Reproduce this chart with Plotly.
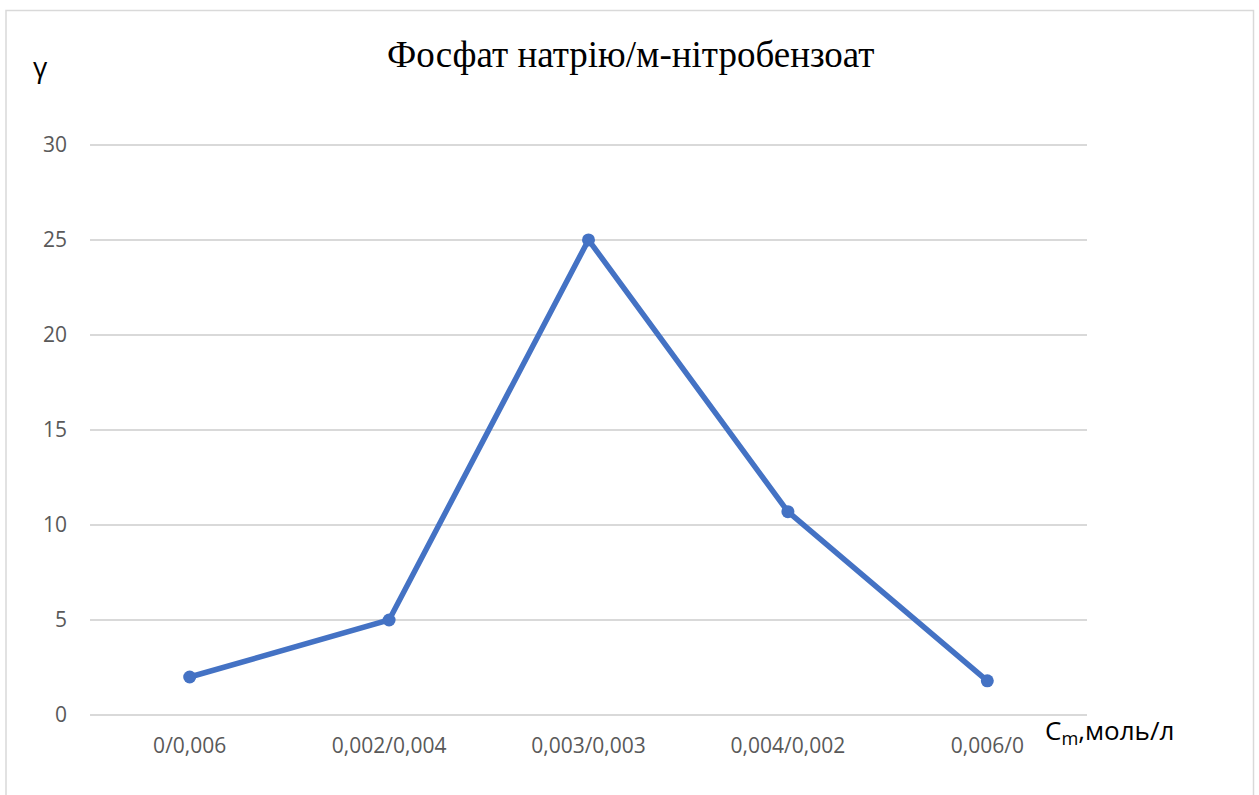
import plotly.graph_objects as go

categories = ["0/0,006", "0,002/0,004", "0,003/0,003", "0,004/0,002", "0,006/0"]
gamma = [2.0, 5.0, 25.0, 10.7, 1.8]
y_ticks = [0, 5, 10, 15, 20, 25, 30]

W, H = 1259, 795
L, R, T, B = 90, 1259 - 1087, 142, 795 - 715

fig = go.Figure()
fig.add_trace(go.Scatter(
    x=categories, y=gamma, mode="lines+markers",
    line=dict(color="#4472C4", width=5.5),
    marker=dict(color="#4472C4", size=13),
    cliponaxis=False, showlegend=False,
))

pw, ph = W - L - R, H - T - B
def px(x): return (x - L) / pw
def py(y): return (H - B - y) / ph

SANS = "Open Sans"
fig.update_layout(
    width=W, height=H,
    margin=dict(l=L, r=R, t=T, b=B),
    paper_bgcolor="white", plot_bgcolor="white",
    font=dict(family=SANS, color="#595959", size=21),
    xaxis=dict(type="category", showgrid=False, showline=False, zeroline=False,
               ticks="", tickfont=dict(family=SANS, size=21, color="#595959"), range=[-0.5, 4.5],
               ticklabelstandoff=16),
    yaxis=dict(range=[0, 30.15], tickvals=y_ticks, showgrid=True, gridcolor="#D9D9D9",
               gridwidth=1.5, zeroline=True, zerolinecolor="#D9D9D9", zerolinewidth=1.5,
               showline=False, ticks="",
               tickfont=dict(family=SANS, size=21, color="#595959"), ticklabelstandoff=22),
    shapes=[dict(type="rect", xref="paper", yref="paper",
                 x0=px(6), x1=px(1253.5), y0=py(820), y1=py(10.5),
                 line=dict(color="#D9D9D9", width=1.5), fillcolor="rgba(0,0,0,0)", layer="below")],
    annotations=[
        dict(text="Фосфат натрію/м-нітробензоат", xref="paper", yref="paper",
             x=px(631), y=py(55), showarrow=False, xanchor="center", yanchor="middle",
             font=dict(family="Liberation Serif", size=37, color="black")),
        dict(text="γ", xref="paper", yref="paper", x=px(40), y=py(66), showarrow=False,
             xanchor="center", yanchor="middle",
             font=dict(family=SANS, size=28, color="black")),
        dict(text="C<sub>m</sub>,моль/л", xref="paper", yref="paper", x=px(1043), y=py(731),
             showarrow=False, xanchor="left", yanchor="middle",
             font=dict(family=SANS, size=26, color="black")),
    ],
)

fig.write_html("out.html")
